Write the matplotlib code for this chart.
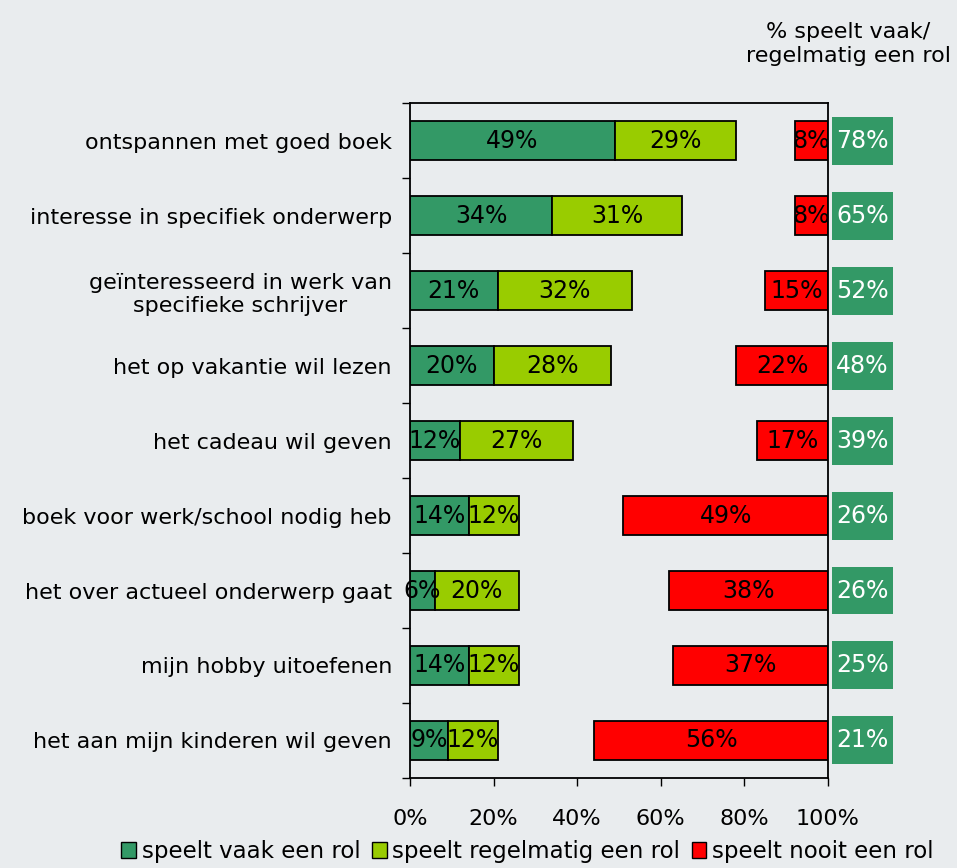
import matplotlib
matplotlib.use("Agg")
import matplotlib.pyplot as plt
from matplotlib.patches import Rectangle, Patch
import matplotlib.transforms as mtransforms

# Datos
categorias = [
    "ontspannen met goed boek",
    "interesse in specifiek onderwerp",
    "geïnteresseerd in werk van\nspecifieke schrijver",
    "het op vakantie wil lezen",
    "het cadeau wil geven",
    "boek voor werk/school nodig heb",
    "het over actueel onderwerp gaat",
    "mijn hobby uitoefenen",
    "het aan mijn kinderen wil geven",
]
vaak = [49, 34, 21, 20, 12, 14, 6, 14, 9]
regelmatig = [29, 31, 32, 28, 27, 12, 20, 12, 12]
nooit = [8, 8, 15, 22, 17, 49, 38, 37, 56]
totaal = [78, 65, 52, 48, 39, 26, 26, 25, 21]
ticks_x = [0, 20, 40, 60, 80, 100]

bg = "#E9ECEE"
c_vaak = "#339966"
c_regel = "#99CC00"
c_nooit = "#FF0000"
fs = 16
fs_bar = 17

plt.rcParams['font.family'] = ['DejaVu Sans']

fig = plt.figure(figsize=(9.57, 8.68), dpi=100, facecolor=bg)
ax = fig.add_axes([0.4284, 0.1037, 0.8652 - 0.4284, 0.8813 - 0.1037])
ax.set_facecolor(bg)

y = list(range(len(categorias)))
h = 0.52
ax.barh(y, vaak, height=h, color=c_vaak, edgecolor="black", linewidth=1.3)
ax.barh(y, regelmatig, left=vaak, height=h, color=c_regel, edgecolor="black", linewidth=1.3)
inicio_nooit = [100 - v for v in nooit]
ax.barh(y, nooit, left=inicio_nooit, height=h, color=c_nooit, edgecolor="black", linewidth=1.3)

for i in y:
    ax.text(vaak[i] / 2, i, f"{vaak[i]}%", ha="center", va="center", fontsize=fs_bar)
    ax.text(vaak[i] + regelmatig[i] / 2, i, f"{regelmatig[i]}%", ha="center", va="center", fontsize=fs_bar)
    ax.text(100 - nooit[i] / 2, i, f"{nooit[i]}%", ha="center", va="center", fontsize=fs_bar)

# Cajas de totales a la derecha
trans = mtransforms.blended_transform_factory(ax.transAxes, ax.transData)
for i in y:
    ax.add_patch(Rectangle((1.0096, i - 0.32), 0.146, 0.64, transform=trans,
                           facecolor=c_vaak, edgecolor="none", clip_on=False))
    ax.text(1.0096 + 0.073, i, f"{totaal[i]}%", transform=trans, ha="center", va="center",
            fontsize=fs_bar, color="white")

ax.set_xlim(0, 100)
ax.set_ylim(len(categorias) - 0.5, -0.5)
ax.set_xticks(ticks_x)
ax.set_xticklabels([f"{t}%" for t in ticks_x], fontsize=fs)
ax.tick_params(axis="x", direction="out", length=6, pad=16, width=1)
ax.set_yticks(y)
ax.set_yticklabels(categorias, fontsize=fs)
ax.set_yticks([i - 0.5 for i in range(len(categorias) + 1)], minor=True)
ax.tick_params(axis="y", which="major", length=0, pad=13)
ax.tick_params(axis="y", which="minor", length=6, width=1)
for lbl in ax.get_yticklabels():
    lbl.set_multialignment("center")
for s in ax.spines.values():
    s.set_linewidth(1.3)

fig.text(848 / 957, 1 - 44 / 868, "% speelt vaak/\nregelmatig een rol", ha="center", va="center",
         fontsize=fs, linespacing=1.3)

handles = [Patch(facecolor=c_vaak, edgecolor="black", label="speelt vaak een rol"),
           Patch(facecolor=c_regel, edgecolor="black", label="speelt regelmatig een rol"),
           Patch(facecolor=c_nooit, edgecolor="black", label="speelt nooit een rol")]
fig.legend(handles=handles, loc="center", bbox_to_anchor=(0.551, 0.019), ncol=3, frameon=False,
           fontsize=16.5, handlelength=0.65, handleheight=0.65, handletextpad=0.25, columnspacing=0.5)

fig.savefig("out.png", dpi=100, facecolor=bg)
